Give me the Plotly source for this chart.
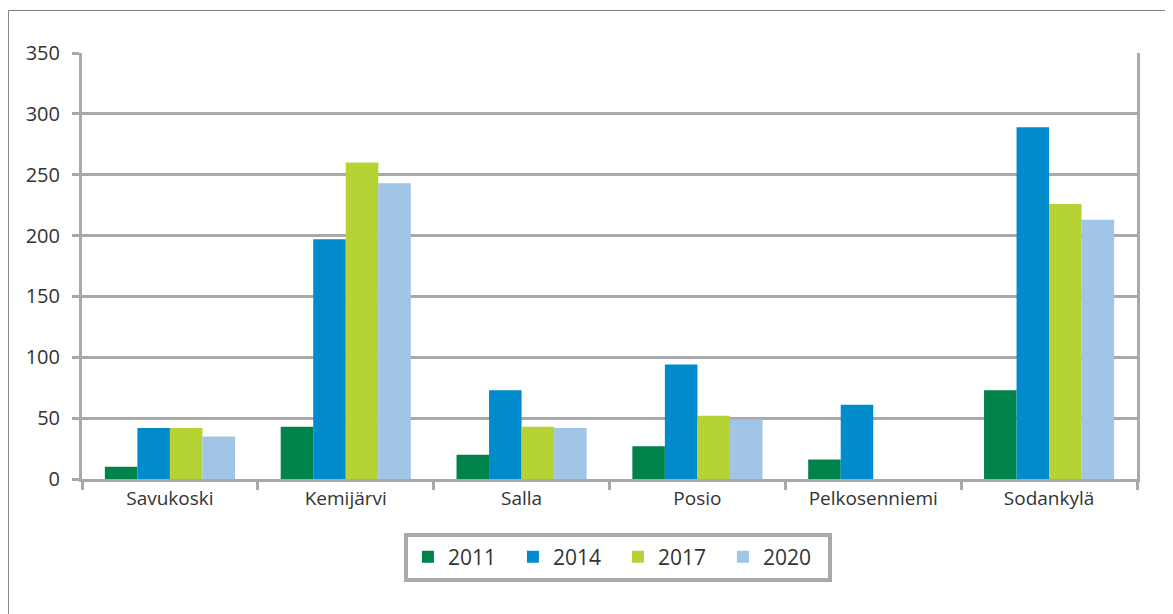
import plotly.graph_objects as go

kunnat = ["Savukoski", "Kemijärvi", "Salla", "Posio", "Pelkosenniemi", "Sodankylä"]
v2011 = [10, 43, 20, 27, 16, 73]
v2014 = [42, 197, 73, 94, 61, 289]
v2017 = [42, 260, 43, 52, 0, 226]
v2020 = [35, 243, 42, 49, 0, 213]

series = [
    ("2011", v2011, "#00834A"),
    ("2014", v2014, "#008BCC"),
    ("2017", v2017, "#B5D334"),
    ("2020", v2020, "#A0C5E6"),
]

GRID = "#A7A9AC"

fig = go.Figure()
for name, vals, color in series:
    fig.add_trace(go.Bar(x=kunnat, y=vals, name=name, marker=dict(color=color, line=dict(width=0))))

# page body has an 8px margin, so the figure is shifted by (8, 8)
fig.update_layout(
    barmode="group",
    bargap=0.26,
    bargroupgap=0,
    width=1173,
    height=614,
    margin=dict(l=74, r=44, t=45, b=143),
    paper_bgcolor="white",
    plot_bgcolor="white",
    font=dict(family="Open Sans, sans-serif", size=19, color="#333333"),
    xaxis=dict(
        showline=True, linecolor=GRID, linewidth=3,
        ticks="outside", tickson="boundaries", ticklen=8, tickwidth=3, tickcolor=GRID,
        showgrid=False,
    ),
    yaxis=dict(
        range=[0, 350], dtick=50,
        showline=True, linecolor=GRID, linewidth=3, mirror=True,
        ticks="outside", ticklen=7, tickwidth=3, tickcolor=GRID,
        ticklabelstandoff=8, tickfont=dict(size=20),
        showgrid=True, gridcolor=GRID, gridwidth=3,
        zeroline=False,
    ),
    legend=dict(
        orientation="h", x=0.508, xanchor="center", y=-0.126, yanchor="top",
        bordercolor=GRID, borderwidth=4, font=dict(size=21),
        entrywidth=60,
    ),
    shapes=[
        dict(type="rect", xref="paper", yref="paper",
             x0=-0.0697, x1=1.2, y0=-0.5, y1=1.0998,
             line=dict(color="#808080", width=1), layer="below"),
    ],
)

fig.write_html("out.html")
